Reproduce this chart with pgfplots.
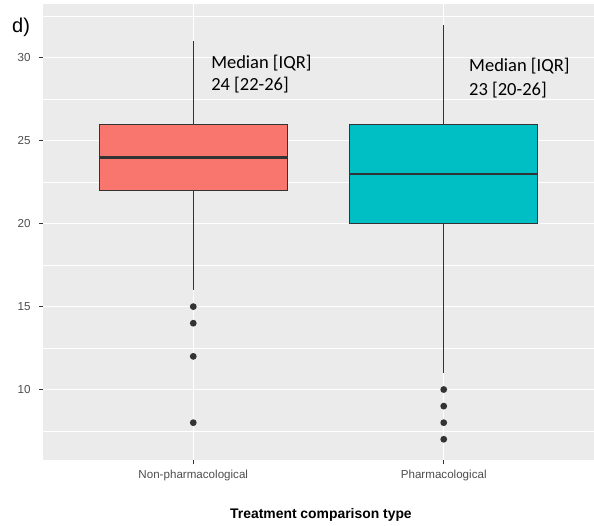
\documentclass[border=0pt]{standalone}
\usepackage{pgfplots}
\pgfplotsset{compat=1.18}
\usepgfplotslibrary{statistics}
\usepackage{fontspec}
\setmainfont{Liberation Sans}
\newfontfamily\calibri{Carlito}
\definecolor{panelbg}{HTML}{EBEBEB}
\definecolor{redfill}{HTML}{F8766D}
\definecolor{tealfill}{HTML}{00BFC4}
\definecolor{g20}{HTML}{333333}
\definecolor{g30}{HTML}{4D4D4D}
\begin{document}
\begin{tikzpicture}
\begin{axis}[name=ax, scale only axis, width=551bp, height=456bp,
 xmin=0.4, xmax=2.6, ymin=5.75, ymax=33.25,
 xtick={1,2}, xticklabels={Non-pharmacological, Pharmacological},
 ytick={10,15,20,25,30},
 minor ytick={7.5,12.5,17.5,22.5,27.5,32.5},
 grid=both,
 major grid style={white, line width=1.1bp},
 minor grid style={white, line width=0.55bp},
 axis background/.style={fill=panelbg},
 axis line style={draw=none},
 tick align=outside, tick pos=left,
 major tick length=4bp, minor tick length=0pt,
 tick style={g20, line width=1.1bp},
 /pgf/number format/assume math mode=true,
 ticklabel style={font=\fontsize{11.6bp}{13bp}\selectfont, text=g30},
 yticklabel style={xshift=-5bp},
 xticklabel style={yshift=-3bp},
 xlabel={Treatment comparison type},
 xlabel style={font=\fontsize{13.9bp}{16bp}\selectfont\bfseries, at={(axis description cs:0.5045,0)}, anchor=base, yshift=-58bp},
 boxplot/draw direction=y,
]
\addplot+[boxplot prepared={draw position=1, median=24, lower quartile=22, upper quartile=26, lower whisker=16, upper whisker=31, box extend=0.75, whisker extend=0, every median/.style={line width=2.4bp}},
  draw=g20, solid, line width=1.3bp, fill=redfill,
  mark=*, mark size=2.7bp, mark options={fill=g20, draw=g20}]
  coordinates {(1,15) (1,14) (1,12) (1,8)};
\addplot+[boxplot prepared={draw position=2, median=23, lower quartile=20, upper quartile=26, lower whisker=11, upper whisker=32, box extend=0.75, whisker extend=0, every median/.style={line width=2.4bp}},
  draw=g20, solid, line width=1.3bp, fill=tealfill,
  mark=*, mark size=2.7bp, mark options={fill=g20, draw=g20}]
  coordinates {(2,10) (2,9) (2,8) (2,7)};
\node[anchor=base west, inner sep=0pt, font=\calibri\fontsize{18.5bp}{22bp}\selectfont] at (axis cs:1.071,29.39) {Median [IQR]};
\node[anchor=base west, inner sep=0pt, font=\calibri\fontsize{18.5bp}{22bp}\selectfont] at (axis cs:1.071,28.03) {24 [22-26]};
\node[anchor=base west, inner sep=0pt, font=\calibri\fontsize{18.5bp}{22bp}\selectfont] at (axis cs:2.101,29.15) {Median [IQR]};
\node[anchor=base west, inner sep=0pt, font=\calibri\fontsize{18.5bp}{22bp}\selectfont] at (axis cs:2.101,27.76) {23 [20-26]};
\end{axis}
\node[anchor=base west, inner sep=0pt, font=\fontsize{20bp}{24bp}\selectfont] at ([xshift=-31bp, yshift=-29bp]ax.north west) {d)};
\pgfresetboundingbox
\path[use as bounding box] ([xshift=-43bp,yshift=-66bp]ax.south west) rectangle ([yshift=4bp]ax.north east);
\end{tikzpicture}
\end{document}
